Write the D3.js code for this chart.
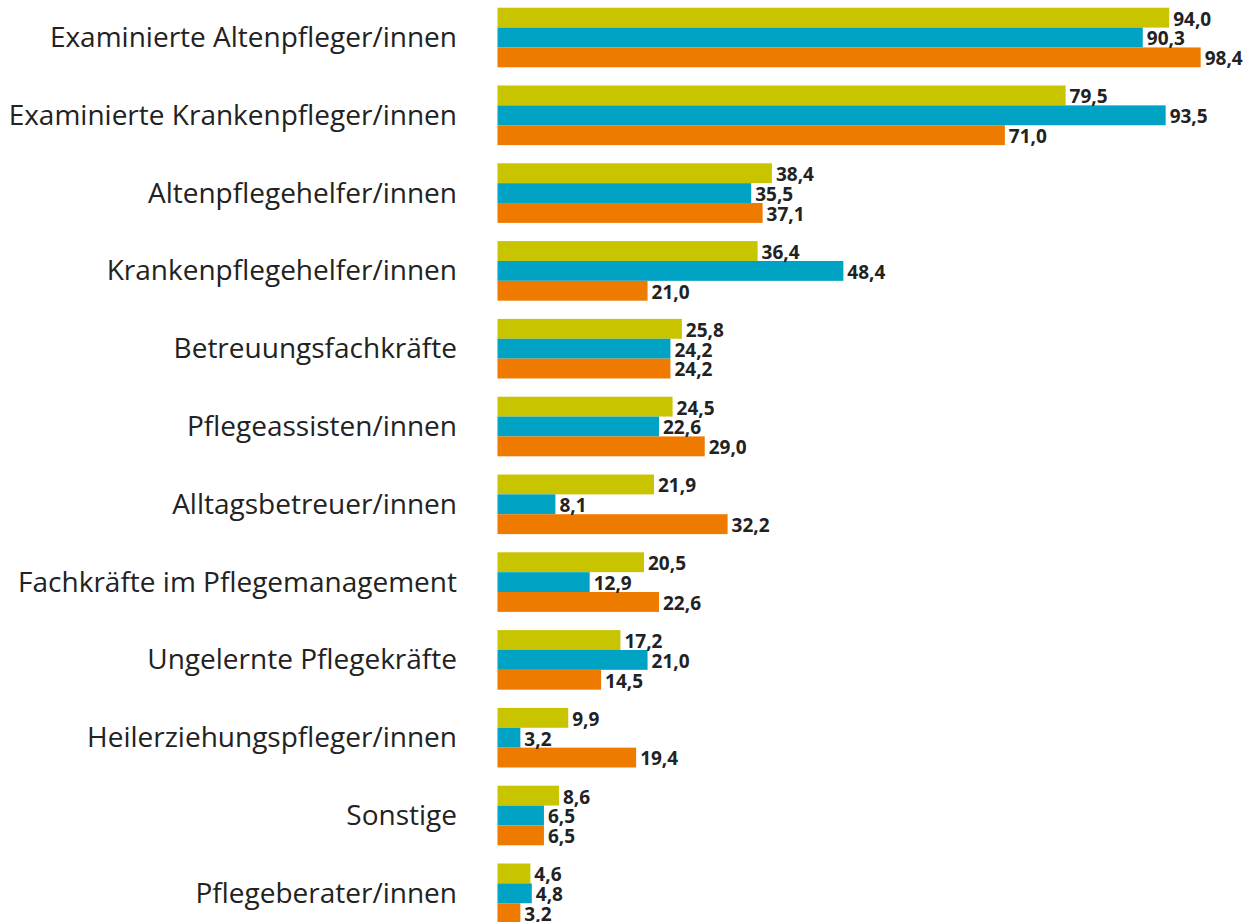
<!DOCTYPE html>
<html>
<head>
<meta charset="utf-8">
<script src="https://cdn.jsdelivr.net/npm/d3@7"></script>
<style>
  html, body { margin: 0; padding: 0; background: #ffffff; }
  svg { display: block; }
</style>
</head>
<body>
<svg id="chart" width="1245" height="922"></svg>
<script>
const categories = [
  "Examinierte Altenpfleger/innen",
  "Examinierte Krankenpfleger/innen",
  "Altenpflegehelfer/innen",
  "Krankenpflegehelfer/innen",
  "Betreuungsfachkräfte",
  "Pflegeassisten/innen",
  "Alltagsbetreuer/innen",
  "Fachkräfte im Pflegemanagement",
  "Ungelernte Pflegekräfte",
  "Heilerziehungspfleger/innen",
  "Sonstige",
  "Pflegeberater/innen"
];
const seriesNames = ["Serie 1", "Serie 2", "Serie 3"];
const series1 = [94.0, 79.5, 38.4, 36.4, 25.8, 24.5, 21.9, 20.5, 17.2, 9.9, 8.6, 4.6];
const series2 = [90.3, 93.5, 35.5, 48.4, 24.2, 22.6, 8.1, 12.9, 21.0, 3.2, 6.5, 4.8];
const series3 = [98.4, 71.0, 37.1, 21.0, 24.2, 29.0, 32.2, 22.6, 14.5, 19.4, 6.5, 3.2];
const colors = ["#C9C400", "#00A3C3", "#EE7A00"];

const allSeries = [series1, series2, series3];
const data = categories.map((c, i) => ({
  cat: c,
  values: allSeries.map((s, k) => ({ key: seriesNames[k], value: s[i], k }))
}));

const svg = d3.select("#chart");

const x = d3.scaleLinear().domain([0, 100]).range([497.5, 1212.1]);
const y = d3.scaleBand().domain(categories).range([7.7, 923.1]).paddingInner(0.234).paddingOuter(0);
const ySub = d3.scaleBand().domain(seriesNames).range([0, y.bandwidth()]).padding(0);

const fmt = v => d3.format(".1f")(v).replace(".", ",");

const groups = svg.selectAll("g.group")
  .data(data)
  .join("g")
  .attr("class", "group")
  .attr("transform", d => `translate(0,${y(d.cat)})`);

groups.selectAll("rect")
  .data(d => d.values)
  .join("rect")
  .attr("x", x(0))
  .attr("y", d => ySub(d.key))
  .attr("width", d => x(d.value) - x(0))
  .attr("height", ySub.bandwidth())
  .attr("fill", d => colors[d.k]);

groups.selectAll("text.val")
  .data(d => d.values)
  .join("text")
  .attr("class", "val")
  .attr("x", d => x(d.value) + 4)
  .attr("y", d => ySub(d.key) + ySub.bandwidth() - 2)
  .attr("font-family", "'Open Sans', sans-serif")
  .attr("font-weight", "bold")
  .attr("font-size", 19)
  .attr("fill", "#222222")
  .text(d => fmt(d.value));

// category axis labels
const yAxis = d3.axisLeft(y).tickSize(0).tickPadding(0);
const ax = svg.append("g")
  .attr("transform", `translate(457,0)`)
  .call(yAxis);
ax.select(".domain").remove();
ax.selectAll("text")
  .attr("font-family", "'Open Sans', sans-serif")
  .attr("font-size", 28)
  .attr("fill", "#222222")
  .attr("dy", "0.34em");
</script>
</body>
</html>
